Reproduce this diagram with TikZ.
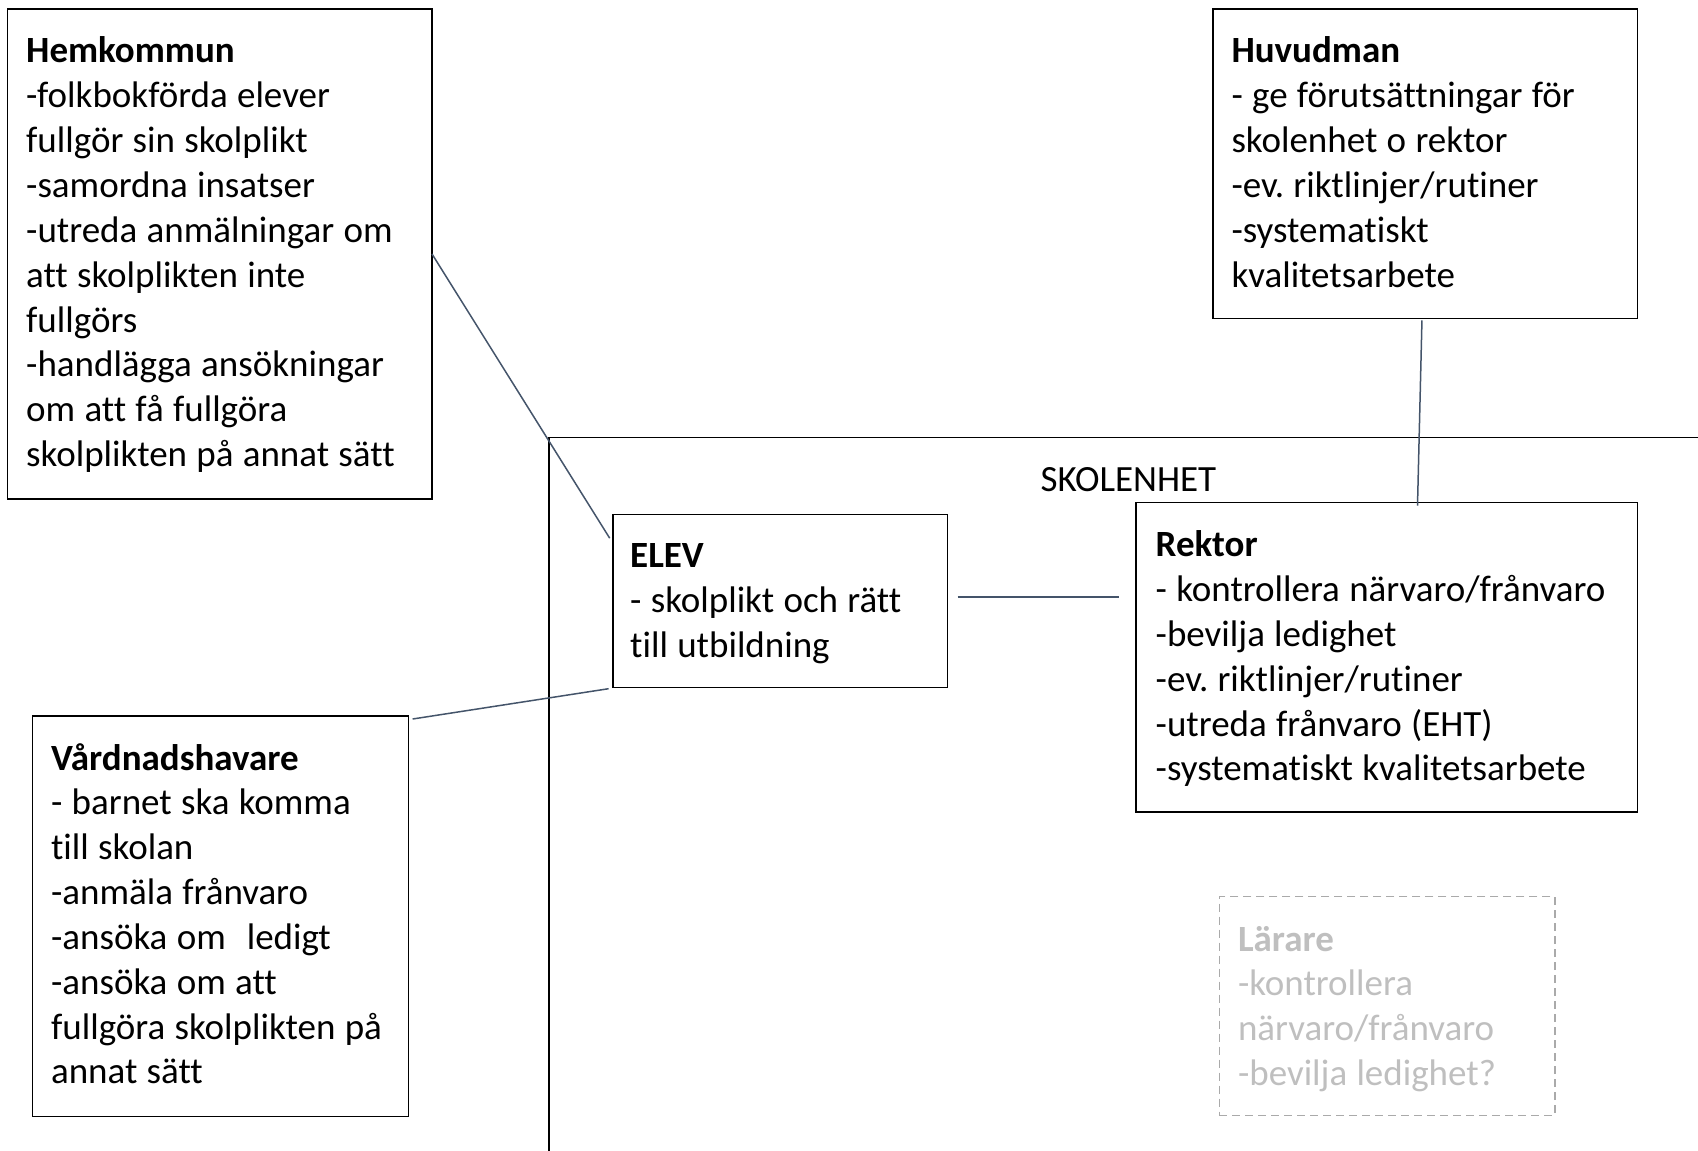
\documentclass[tikz,border=0pt]{standalone}
\usepackage{fontspec}
\setmainfont{Carlito}[Ligatures=NoCommon]
\usetikzlibrary{calc}
\definecolor{conncol}{RGB}{68,84,106}
\definecolor{faintgray}{RGB}{191,191,191}
\definecolor{dashgray}{RGB}{170,170,170}
\newcommand{\boxfont}{\fontsize{37pt}{44.85pt}\selectfont\frenchspacing}
\begin{document}
\begin{tikzpicture}[x=1pt,y=-1pt,
  box/.style={draw=black,line width=1.6pt,anchor=north west,inner sep=0pt,outer sep=0pt},
  fbox/.style={draw=dashgray,line width=1.6pt,dash pattern=on 8pt off 5pt,anchor=north west,inner sep=0pt,outer sep=0pt},
  txt/.style={anchor=base west,inner sep=0pt,text width=600pt,align=left,font=\boxfont,
    execute at begin node={\spaceskip=9.3pt\relax\xspaceskip=9.3pt\relax}},
  conn/.style={draw=conncol,line width=1.5pt}]
\useasboundingbox (0,0) rectangle (1698,1151);
% frame of the school unit
\coordinate (sk1) at (549,1151);
\coordinate (sk2) at (549,437.5);
\coordinate (sk3) at (1698,437.5);
\draw[line width=1.6pt] (sk1) -- (sk2) -- (sk3);
\node[font=\boxfont,inner sep=0pt,anchor=base] (sklbl) at (1128.4,491.5) {SKOLENHET};
% boxes
\node[box,minimum width=424.4pt,minimum height=490.5pt] (hem) at (7.6,8.7) {};
\node[box,minimum width=424.5pt,minimum height=309.7pt] (huv) at (1212.9,8.7) {};
\node[box,minimum width=334.6pt,minimum height=173.2pt] (elev) at (612.9,514.4) {};
\node[box,minimum width=501.4pt,minimum height=309.7pt] (rek) at (1136,502.5) {};
\node[box,minimum width=375.8pt,minimum height=400.7pt] (vard) at (32.5,715.8) {};
\node[fbox,minimum width=335.7pt,minimum height=218.7pt] (lar) at (1219.3,896.6) {};
% texts
\node[txt] (hemtxt) at (26,62.9) {\textbf{Hemkommun}\\-folkbokförda elever\\fullgör sin skolplikt\\-samordna insatser\\-utreda anmälningar om\\att skolplikten inte\\fullgörs\\-handlägga ansökningar\\om att få fullgöra\\skolplikten på annat sätt};
\node[txt] (huvtxt) at (1231.3,62.9) {\textbf{Huvudman}\\- ge förutsättningar för\\skolenhet o rektor\\-ev. riktlinjer/rutiner\\-systematiskt\\kvalitetsarbete};
\node[txt] (elevtxt) at (630,567.5) {\textbf{ELEV}\\- skolplikt och rätt\\till utbildning};
\node[txt] (rektxt) at (1155.5,556.7) {\textbf{Rektor}\\- kontrollera närvaro/frånvaro\\-bevilja ledighet\\-ev. riktlinjer/rutiner\\-utreda frånvaro (EHT)\\-systematiskt kvalitetsarbete};
\node[txt] (vardtxt) at (50.9,770) {\textbf{Vårdnadshavare}\\- barnet ska komma\\till skolan\\-anmäla frånvaro\\-ansöka om\hspace{21pt}ledigt\\-ansöka om att\\fullgöra skolplikten på\\annat sätt};
\node[txt,text=faintgray] (lartxt) at (1237.8,951) {\textbf{Lärare}\\-kontrollera\\närvaro/frånvaro\\-bevilja ledighet?};
% connectors
\draw[conn] (hem.east) -- ($(elev.north west)+(-3.2,23.8)$);
\draw[conn] ($(elev.east)+(10,-4)$) -- ($(elev.east -| rek.west)+(-17.4,-4)$);
\draw[conn] ($(vard.north east)+(4.3,3.2)$) -- ($(elev.south west)+(-4.3,1.1)$);
\draw[conn] ($(huv.south)+(-3.2,2)$) -- ($(rek.north)+(30.8,3.2)$);
\end{tikzpicture}
\end{document}
